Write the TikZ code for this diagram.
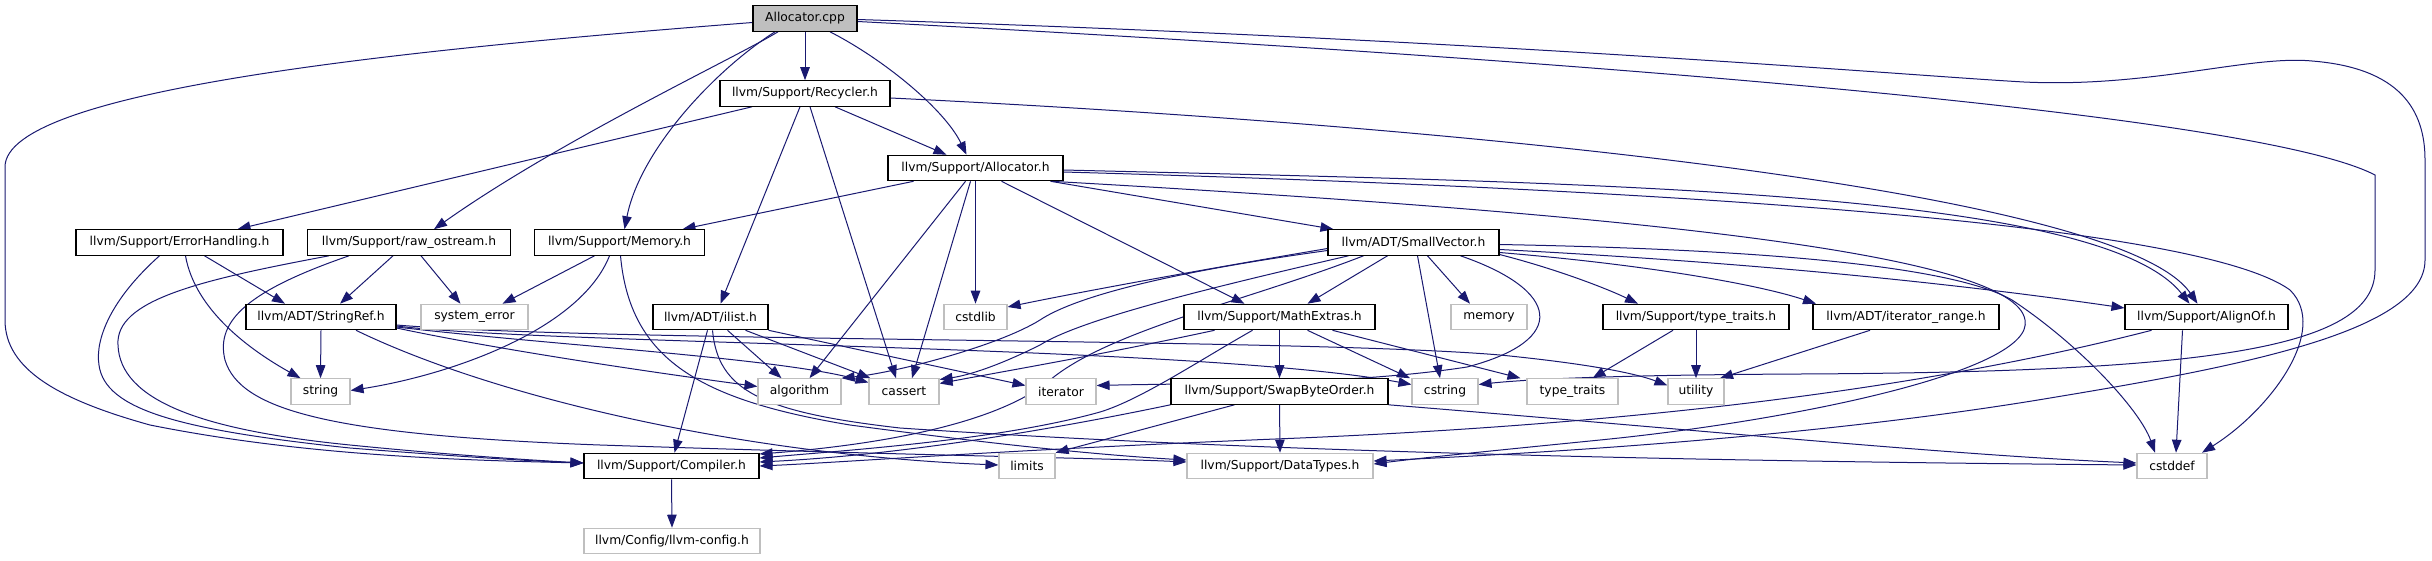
\documentclass[tikz,border=0pt]{standalone}
\usepackage{fontspec}
\setmainfont{DejaVu Sans}
\usetikzlibrary{arrows.meta}
\definecolor{edgecol}{HTML}{191970}
\definecolor{grayb}{HTML}{BFBFBF}
\pgfdeclarelayer{bg}
\pgfsetlayers{bg,main}
\begin{document}
\begin{tikzpicture}[x=1pt,y=-1pt,
  nd/.style={draw=black,line width=1.1pt,fill=white,minimum height=25.5pt,inner sep=0pt,
    font=\fontsize{12.3}{14}\selectfont},
  gnd/.style={nd,draw=grayb},
  rootnd/.style={nd,fill=grayb},
  e/.style={draw=edgecol,line width=1pt,-{Triangle[length=13pt,width=9.5pt,fill=edgecol]}}]
\useasboundingbox (0,0) rectangle (2432,560);
% nodes
\node[rootnd,minimum width=104pt] (cpp) at (805,18.5) {Allocator.cpp};
\node[nd,minimum width=170pt] (recycler) at (805,93.5) {llvm/Support/Recycler.h};
\node[nd,minimum width=175pt] (alloch) at (975.5,168) {llvm/Support/Allocator.h};
\node[nd,minimum width=207pt] (errh) at (179.5,242.5) {llvm/Support/ErrorHandling.h};
\node[nd,minimum width=203pt] (rawos) at (409,242.5) {llvm/Support/raw\_ostream.h};
\node[nd,minimum width=170pt] (memory) at (619.5,242.5) {llvm/Support/Memory.h};
\node[nd,minimum width=171pt] (smallvec) at (1413.5,242.5) {llvm/ADT/SmallVector.h};
\node[nd,minimum width=150pt] (stringref) at (321,317) {llvm/ADT/StringRef.h};
\node[gnd,minimum width=107pt] (syserr) at (474.5,317) {system\_error};
\node[nd,minimum width=115pt] (ilist) at (710.5,317) {llvm/ADT/ilist.h};
\node[gnd,minimum width=63pt] (cstdlib) at (975.5,317) {cstdlib};
\node[nd,minimum width=191pt] (mathext) at (1279.5,317) {llvm/Support/MathExtras.h};
\node[gnd,minimum width=76pt] (memstd) at (1489,317) {memory};
\node[nd,minimum width=186pt] (tth) at (1696,317) {llvm/Support/type\_traits.h};
\node[nd,minimum width=186pt] (itrange) at (1906,317) {llvm/ADT/iterator\_range.h};
\node[nd,minimum width=163pt] (alignof) at (2206.5,317) {llvm/Support/AlignOf.h};
\node[gnd,minimum width=59pt] (string) at (320.5,391.5) {string};
\node[gnd,minimum width=83pt] (algorithm) at (799.5,391.5) {algorithm};
\node[gnd,minimum width=70pt] (cassert) at (904,391.5) {cassert};
\node[gnd,minimum width=70pt] (iterator) at (1061,391.5) {iterator};
\node[nd,minimum width=217pt] (swapbo) at (1279.5,391.5) {llvm/Support/SwapByteOrder.h};
\node[gnd,minimum width=66pt] (cstring) at (1445,391.5) {cstring};
\node[gnd,minimum width=91pt] (typetraits) at (1572.5,391.5) {type\_traits};
\node[gnd,minimum width=56pt] (utility) at (1696,391.5) {utility};
\node[nd,minimum width=175pt] (compiler) at (671.5,466) {llvm/Support/Compiler.h};
\node[gnd,minimum width=56pt] (limits) at (1027,466) {limits};
\node[gnd,minimum width=186pt] (datatypes) at (1280,466) {llvm/Support/DataTypes.h};
\node[gnd,minimum width=70pt] (cstddef) at (2172,466) {cstddef};
\node[gnd,minimum width=176pt] (config) at (672,541) {llvm/Config/llvm-config.h};
% edges
\begin{pgfonlayer}{bg}
% Allocator.cpp
\draw[e] (cpp.south) -- (recycler.north);
\draw[e] ([xshift=25pt]cpp.south) .. controls (885,60) and (945,110) .. ([xshift=-9pt]alloch.north);
\draw[e] ([xshift=-30pt]cpp.south) .. controls (715,70) and (640,150) .. ([xshift=5pt]memory.north);
\draw[e] ([xshift=-27pt]cpp.south) .. controls (735,58) and (560,140) .. ([xshift=25pt]rawos.north);
\draw[e] ([yshift=-4pt]cpp.west) .. controls (400,50) and (5,90) .. (5,167) -- (5,320) .. controls (5,370) and (60,400) .. (150,425) .. controls (300,455) and (450,460) .. ([yshift=3pt]compiler.west);
\draw[e] ([yshift=-3pt]cpp.east) .. controls (1500,55) and (2250,110) .. (2375,175) -- (2375,270) .. controls (2375,350) and (2200,372) .. (1800,374) .. controls (1600,375) and (1520,380) .. ([yshift=7pt]cstring.east);
\draw[e] ([yshift=-1pt]cpp.east) .. controls (1500,40) and (1900,75) .. (2024,82) .. controls (2150,88) and (2250,55) .. (2312,61) .. controls (2400,68) and (2425,110) .. (2425,160) -- (2425,260) .. controls (2425,330) and (2250,365) .. (2050,398) .. controls (1800,440) and (1500,455) .. ([yshift=5pt]datatypes.east);
% Recycler.h
\draw[e] ([xshift=-53pt]recycler.south) -- ([xshift=58pt]errh.north);
\draw[e] ([xshift=-5pt]recycler.south) -- ([xshift=10pt]ilist.north);
\draw[e] ([xshift=5pt]recycler.south) -- ([xshift=-8pt]cassert.north);
\draw[e] ([xshift=30pt]recycler.south) -- ([xshift=-29pt]alloch.north);
\draw[e] ([yshift=-4.5pt]recycler.east) .. controls (1450,125) and (2120,190) .. ([xshift=-9pt]alignof.north);
% Allocator.h
\draw[e] ([xshift=-62pt]alloch.south) -- ([xshift=63pt]memory.north);
\draw[e] ([xshift=-10pt]alloch.south) -- ([xshift=10pt]algorithm.north);
\draw[e] ([xshift=-5pt]alloch.south) -- ([xshift=8pt]cassert.north);
\draw[e] (alloch.south) -- (cstdlib.north);
\draw[e] ([xshift=26pt]alloch.south) -- ([xshift=-35pt]mathext.north);
\draw[e] ([xshift=75pt]alloch.south) -- ([xshift=-80pt]smallvec.north);
\draw[e] ([yshift=-2pt]alloch.east) .. controls (1600,183) and (2100,190) .. ([xshift=-17pt]alignof.north);
\draw[e] ([yshift=-4pt]alloch.east) .. controls (1700,190) and (2200,225) .. (2290,290) .. controls (2330,330) and (2270,410) .. ([xshift=30pt]cstddef.north);
\draw[e] ([xshift=76pt]alloch.south) .. controls (1650,215) and (2015,255) .. (2025,320) .. controls (2035,370) and (1800,420) .. (1600,440) .. controls (1500,450) and (1420,458) .. ([yshift=2pt]datatypes.east);
% Memory.h
\draw[e] ([xshift=-25pt]memory.south) -- ([xshift=28pt]syserr.north);
\draw[e] ([xshift=-10pt]memory.south) .. controls (580,330) and (450,375) .. ([yshift=1pt]string.east);
\draw[e] ([xshift=1pt]memory.south) .. controls (630,360) and (700,400) .. (850,425) .. controls (1000,445) and (1100,455) .. ([yshift=6pt]datatypes.west);
% raw_ostream.h
\draw[e] ([xshift=-16pt]rawos.south) -- ([xshift=19pt]stringref.north);
\draw[e] ([xshift=12pt]rawos.south) -- ([xshift=-14pt]syserr.north);
\draw[e] ([xshift=-80pt]rawos.south) .. controls (200,280) and (115,300) .. (118,345) .. controls (120,400) and (200,430) .. (350,445) .. controls (450,455) and (530,460) .. ([yshift=3pt]compiler.west);
\draw[e] ([xshift=-60pt]rawos.south) .. controls (250,290) and (215,320) .. (225,360) .. controls (240,410) and (330,435) .. (600,445) .. controls (900,455) and (1100,458) .. ([yshift=4pt]datatypes.west);
% ErrorHandling.h
\draw[e] ([xshift=25pt]errh.south) -- ([xshift=-36pt]stringref.north);
\draw[e] ([xshift=6pt]errh.south) .. controls (195,310) and (250,350) .. ([xshift=-20pt]string.north);
\draw[e] ([xshift=-20pt]errh.south) .. controls (110,300) and (95,340) .. (99,365) .. controls (105,410) and (180,430) .. (350,448) .. controls (450,456) and (530,461) .. ([yshift=3pt]compiler.west);
% StringRef.h
\draw[e] (stringref.south) -- (string.north);
\draw[e] ([xshift=35pt]stringref.south) .. controls (500,400) and (750,455) .. ([yshift=1pt]limits.west);
\draw[e] ([yshift=-11pt]stringref.east) .. controls (500,350) and (650,372) .. ([yshift=5pt]algorithm.west);
\draw[e] ([yshift=-10pt]stringref.east) .. controls (550,345) and (780,358) .. ([yshift=9pt]cassert.west);
\draw[e] ([yshift=-9pt]stringref.east) .. controls (550,345) and (1200,345) .. ([yshift=7pt]cstring.west);
\draw[e] ([yshift=-8pt]stringref.east) .. controls (600,342) and (1300,338) .. (1500,355) .. controls (1600,365) and (1640,375) .. ([yshift=6pt]utility.west);
% ilist.h
\draw[e] ([xshift=-3pt]ilist.south) -- ([xshift=3pt]compiler.north);
\draw[e] ([xshift=17pt]ilist.south) -- ([xshift=-18pt]algorithm.north);
\draw[e] ([xshift=35pt]ilist.south) -- ([xshift=2pt]cassert.north west);
\draw[e] (ilist.south east) -- ([yshift=6pt]iterator.west);
\draw[e] ([xshift=2pt]ilist.south) .. controls (718,390) and (760,412) .. (900,428) .. controls (1300,455) and (1800,462) .. ([yshift=1pt]cstddef.west);
% SmallVector.h
\draw[e] ([yshift=-6pt]smallvec.west) .. controls (1200,270) and (1080,292) .. ([yshift=10pt]cstdlib.east);
\draw[e] ([yshift=-8pt]smallvec.west) .. controls (1150,275) and (1070,300) .. (1040,320) .. controls (1000,345) and (900,372) .. (algorithm.north east);
\draw[e] ([xshift=-65pt]smallvec.south) .. controls (1200,290) and (1080,320) .. (1040,345) .. controls (1000,365) and (970,375) .. ([yshift=12pt]cassert.east);
\draw[e] ([xshift=-50pt]smallvec.south) .. controls (1250,300) and (1110,330) .. (1050,380) .. controls (990,430) and (850,447) .. ([yshift=12pt]compiler.east);
\draw[e] ([xshift=-26pt]smallvec.south) -- ([xshift=28pt]mathext.north);
\draw[e] ([xshift=4pt]smallvec.south) -- ([xshift=-5pt]cstring.north);
\draw[e] ([xshift=14pt]smallvec.south) -- ([xshift=-19pt]memstd.north);
\draw[e] ([xshift=47pt]smallvec.south) .. controls (1560,290) and (1570,340) .. (1467,367) .. controls (1350,385) and (1200,383) .. ([yshift=6pt]iterator.east);
\draw[e] ([yshift=-12pt]smallvec.east) .. controls (1560,270) and (1610,290) .. ([xshift=-58pt]tth.north);
\draw[e] ([yshift=-10pt]smallvec.east) .. controls (1650,265) and (1760,285) .. ([xshift=-90pt]itrange.north);
\draw[e] ([yshift=-7pt]smallvec.east) .. controls (1800,265) and (2000,290) .. ([yshift=9pt]alignof.west);
\draw[e] ([yshift=-2pt]smallvec.east) .. controls (1800,250) and (1960,270) .. (2012,300) .. controls (2080,345) and (2140,410) .. ([xshift=-17pt]cstddef.north);
% MathExtras.h
\draw[e] ([xshift=-65pt]mathext.south) .. controls (1100,355) and (1000,372) .. ([yshift=8pt]cassert.east);
\draw[e] ([xshift=-27pt]mathext.south) .. controls (1200,360) and (1140,400) .. (1100,412) .. controls (1000,440) and (850,450) .. ([yshift=8pt]compiler.east);
\draw[e] (mathext.south) -- (swapbo.north);
\draw[e] ([xshift=28pt]mathext.south) -- ([xshift=-35pt]cstring.north);
\draw[e] ([xshift=53pt]mathext.south) -- ([xshift=-52pt]typetraits.north);
% SwapByteOrder.h
\draw[e] (swapbo.south west) .. controls (1050,430) and (900,455) .. ([yshift=4pt]compiler.east);
\draw[e] ([xshift=-45pt]swapbo.south) -- (limits.north east);
\draw[e] (swapbo.south) -- (datatypes.north);
\draw[e] (swapbo.south east) .. controls (1700,430) and (1950,455) .. ([yshift=3pt]cstddef.west);
% type_traits.h, iterator_range.h
\draw[e] ([xshift=-23pt]tth.south) -- ([xshift=20pt]typetraits.north);
\draw[e] (tth.south) -- (utility.north);
\draw[e] ([xshift=-36pt]itrange.south) -- ([xshift=24pt]utility.north);
% AlignOf.h
\draw[e] ([xshift=-55pt]alignof.south) .. controls (1900,395) and (1600,425) .. (1300,438) .. controls (1000,450) and (850,462) .. (compiler.east);
\draw[e] ([xshift=-24pt]alignof.south) -- ([xshift=4pt]cstddef.north);
% Compiler.h
\draw[e] (compiler.south) -- (config.north);
\end{pgfonlayer}
\end{tikzpicture}
\end{document}
